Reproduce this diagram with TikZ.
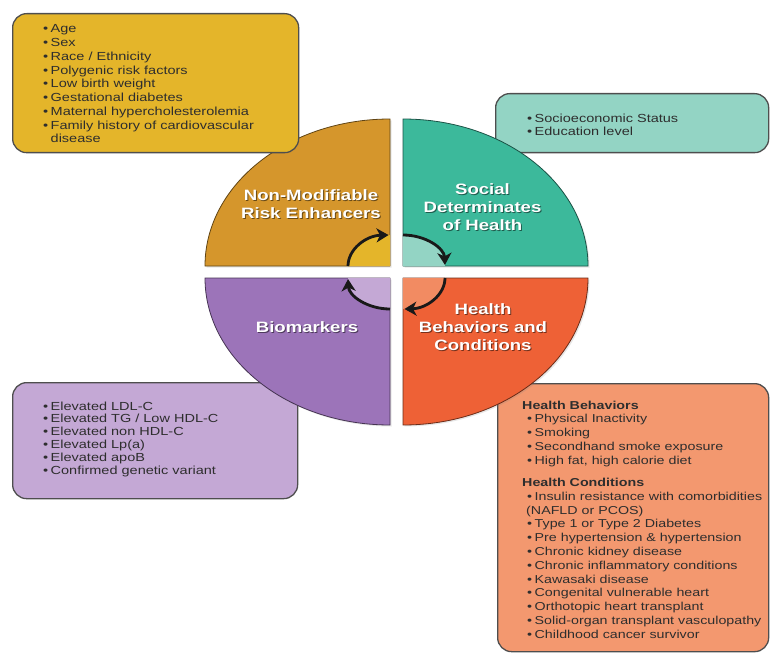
\documentclass[tikz,border=0pt]{standalone}
\usepackage{fontspec}
\setmainfont{Liberation Sans}
\newfontfamily\widesans[FakeStretch=1.24]{Liberation Sans}
\usetikzlibrary{arrows.meta,shadows}

% quadrant colours
\definecolor{qgold}{HTML}{D5962C}
\definecolor{qteal}{HTML}{3CB99B}
\definecolor{qpurple}{HTML}{9C74B9}
\definecolor{qorange}{HTML}{EE6136}
% box / inner colours
\definecolor{bgold}{HTML}{E4B52A}
\definecolor{bteal}{HTML}{93D4C4}
\definecolor{bpurple}{HTML}{C4A8D5}
\definecolor{borange}{HTML}{F3986F}
\definecolor{iorange}{HTML}{F28B62}
\definecolor{boxline}{HTML}{4E4E4E}
\definecolor{txtgray}{HTML}{2E2E2E}

\newcommand{\bul}{\makebox[7.5pt][l]{\textbullet}}

\tikzset{
  infobox/.style={draw=boxline, line width=1.3pt, rounded corners=14pt,
    anchor=north west, inner sep=0pt},
  quad/.style={line width=0.8pt},
  cyclearrow/.style={line width=2.8pt, black!90,
    -{Stealth[length=12pt,width=14pt,inset=3.5pt]}},
  listtext/.style={anchor=base west, inner sep=0pt, text=txtgray},
  quadlabel/.style={anchor=base, inner sep=0pt, text=white,
    font=\widesans\bfseries\fontsize{15}{18}\selectfont},
  labelshadow/.style={quadlabel, text=black, opacity=0.5},
}

\begin{document}
\begin{tikzpicture}[x=1pt, y=-1pt, line join=round]
\useasboundingbox (0,0) rectangle (770,655);

% ---- boxes lying under the wheel ----
\node[infobox, fill=bpurple, minimum width=285pt, minimum height=116pt] (bmbox) at (12,382) {};
\node[infobox, fill=borange, minimum width=271pt, minimum height=268pt] (hbbox) at (497,383) {};
\node[infobox, fill=bteal, minimum width=273pt, minimum height=59pt] (sdbox) at (495,93) {};

% ---- the four quadrants ----
\path[quad, fill=qgold, draw=qgold!45!black, drop shadow={opacity=0.2, shadow xshift=1.5pt, shadow yshift=-1.5pt}]
  (390,266) -- (205,266) arc[start angle=180, end angle=270, x radius=185, y radius=147] -- cycle;
\path[quad, fill=qteal, draw=qteal!45!black, drop shadow={opacity=0.2, shadow xshift=1.5pt, shadow yshift=-1.5pt}]
  (403,266) -- (403,119) arc[start angle=270, end angle=360, x radius=185, y radius=147] -- cycle;
\path[quad, fill=qorange, draw=qorange!45!black, drop shadow={opacity=0.2, shadow xshift=1.5pt, shadow yshift=-1.5pt}]
  (403,278) -- (588,278) arc[start angle=0, end angle=90, x radius=185, y radius=147] -- cycle;
\path[quad, fill=qpurple, draw=qpurple!45!black, drop shadow={opacity=0.2, shadow xshift=1.5pt, shadow yshift=-1.5pt}]
  (390,278) -- (390,425) arc[start angle=90, end angle=180, x radius=185, y radius=147] -- cycle;

% ---- inner hubs ----
\fill[bgold]   (390,266) -- (348,266) arc[start angle=180, end angle=270, x radius=42, y radius=31] -- cycle;
\fill[bteal]   (403,266) -- (403,235) arc[start angle=270, end angle=360, x radius=42, y radius=31] -- cycle;
\fill[iorange] (403,278) -- (445,278) arc[start angle=0, end angle=90, x radius=42, y radius=31] -- cycle;
\fill[bpurple] (390,278) -- (390,309) arc[start angle=90, end angle=180, x radius=42, y radius=31] -- cycle;

% ---- clockwise cycle arrows ----
\draw[cyclearrow] (348,266) arc[start angle=180, end angle=268, x radius=42, y radius=31];
\draw[cyclearrow] (403,235) arc[start angle=270, end angle=358, x radius=42, y radius=31];
\draw[cyclearrow] (445,278) arc[start angle=0, end angle=88, x radius=42, y radius=31];
\draw[cyclearrow] (390,309) arc[start angle=90, end angle=178, x radius=42, y radius=31];

% ---- box lying over the wheel ----
\node[infobox, fill=bgold, minimum width=286pt, minimum height=139pt] (nmbox) at (12,13) {};

% ---- quadrant labels ----
\node[labelshadow] (nmlab-sh) at (312,201.7) {\begin{tabular}[t]{@{}c@{}}Non-Modifiable\\Risk Enhancers\end{tabular}};
\node[quadlabel] (nmlab) at (311,200.7) {\begin{tabular}[t]{@{}c@{}}Non-Modifiable\\Risk Enhancers\end{tabular}};
\node[labelshadow] (sdlab-sh) at (483.5,195) {\begin{tabular}[t]{@{}c@{}}Social\\Determinates\\of Health\end{tabular}};
\node[quadlabel] (sdlab) at (482.5,194) {\begin{tabular}[t]{@{}c@{}}Social\\Determinates\\of Health\end{tabular}};
\node[labelshadow] (bmlab-sh) at (308,333.7) {\begin{tabular}[t]{@{}c@{}}Biomarkers\end{tabular}};
\node[quadlabel] (bmlab) at (307,332.7) {\begin{tabular}[t]{@{}c@{}}Biomarkers\end{tabular}};
\node[labelshadow] (hblab-sh) at (484,315) {\begin{tabular}[t]{@{}c@{}}Health\\Behaviors and\\Conditions\end{tabular}};
\node[quadlabel] (hblab) at (483,314) {\begin{tabular}[t]{@{}c@{}}Health\\Behaviors and\\Conditions\end{tabular}};

% ---- box texts ----
\node[listtext, font=\widesans\fontsize{11.7}{13.75}\selectfont] (nmlist) at (43,33) {%
\begin{tabular}[t]{@{}l@{}}
\bul Age\\
\bul Sex\\
\bul Race / Ethnicity\\
\bul Polygenic risk factors\\
\bul Low birth weight\\
\bul Gestational diabetes\\
\bul Maternal hypercholesterolemia\\
\bul Family history of cardiovascular\\
\hspace*{7.5pt}disease
\end{tabular}};

\node[listtext, font=\widesans\fontsize{11.7}{13}\selectfont] (sdlist) at (527,122.7) {%
\begin{tabular}[t]{@{}l@{}}
\bul Socioeconomic Status\\
\bul Education level
\end{tabular}};

\node[listtext, font=\widesans\fontsize{11.7}{12.8}\selectfont] (bmlist) at (43,410) {%
\begin{tabular}[t]{@{}l@{}}
\bul Elevated LDL-C\\
\bul Elevated TG / Low HDL-C\\
\bul Elevated non HDL-C\\
\bul Elevated Lp(a)\\
\bul Elevated apoB\\
\bul Confirmed genetic variant
\end{tabular}};

\node[listtext, font=\widesans\fontsize{11.5}{13.8}\selectfont] (hblist) at (522,409) {%
\begin{tabular}[t]{@{}l@{}}
\textbf{Health Behaviors}\\
\hspace*{5pt}\bul Physical Inactivity\\
\hspace*{5pt}\bul Smoking\\
\hspace*{5pt}\bul Secondhand smoke exposure\\
\hspace*{5pt}\bul High fat, high calorie diet\\[8.5pt]
\textbf{Health Conditions}\\
\hspace*{5pt}\bul Insulin resistance with comorbidities\\
\hspace*{4pt}(NAFLD or PCOS)\\
\hspace*{5pt}\bul Type 1 or Type 2 Diabetes\\
\hspace*{5pt}\bul Pre hypertension \& hypertension\\
\hspace*{5pt}\bul Chronic kidney disease\\
\hspace*{5pt}\bul Chronic inflammatory conditions\\
\hspace*{5pt}\bul Kawasaki disease\\
\hspace*{5pt}\bul Congenital vulnerable heart\\
\hspace*{5pt}\bul Orthotopic heart transplant\\
\hspace*{5pt}\bul Solid-organ transplant vasculopathy\\
\hspace*{5pt}\bul Childhood cancer survivor
\end{tabular}};
\end{tikzpicture}
\end{document}
